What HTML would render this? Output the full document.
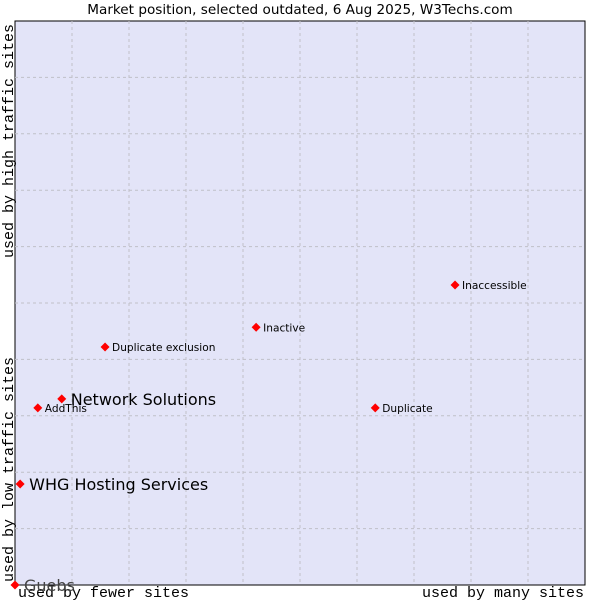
<!DOCTYPE html>
<html><head><meta charset="utf-8"><style>
body{margin:0;background:#fff;width:600px;height:600px;overflow:hidden}
svg{display:block}
</style></head><body>
<svg id="chart" width="600" height="600">
<rect x="15" y="21" width="570" height="564" fill="#e3e4f8" stroke="#000" stroke-width="1"/>
<g id="grid"></g>
<text x="300" y="14" text-anchor="middle" font-family="DejaVu Sans, sans-serif" font-size="13.6" fill="#000">Market position, selected outdated, 6 Aug 2025, W3Techs.com</text>
<text x="18" y="597" font-family="Liberation Mono, monospace" font-size="15">used by fewer sites</text>
<text x="584" y="597" text-anchor="end" font-family="Liberation Mono, monospace" font-size="15">used by many sites</text>
<text transform="translate(13,582) rotate(-90)" font-family="Liberation Mono, monospace" font-size="15">used by low traffic sites</text>
<text transform="translate(13,24) rotate(-90)" text-anchor="end" font-family="Liberation Mono, monospace" font-size="15">used by high traffic sites</text>
<g id="points"></g>
</svg>
<script>
const names=["Guebs","WHG Hosting Services","Network Solutions","AddThis","Duplicate exclusion","Inactive","Duplicate","Inaccessible"];
const xVals=[0,0.9,8.2,4.0,15.8,42.3,63.2,77.2];
const yVals=[0,17.9,33.0,31.4,42.2,45.7,31.4,53.2];
const bigLabel=[true,true,true,false,false,false,false,false];
const L=15,T=21,W=570,H=564;
const sx=v=>L+v/100*W, sy=v=>T+H-v/100*H;
const ns="http://www.w3.org/2000/svg";
const g=document.getElementById('grid');
for(let i=1;i<10;i++){
 const x=L+i*W/10,y=T+i*H/10;
 const a=document.createElementNS(ns,'line');
 
 
 a.setAttribute('x1',x);a.setAttribute('x2',x);a.setAttribute('y1',T);a.setAttribute('y2',T+H);
 a.setAttribute('stroke','#c0c0c8');a.setAttribute('stroke-dasharray','3,3');g.appendChild(a);
 const b=document.createElementNS(ns,'line');
 
 
 b.setAttribute('x1',L);b.setAttribute('x2',L+W);b.setAttribute('y1',y);b.setAttribute('y2',y);
 b.setAttribute('stroke','#c0c0c8');b.setAttribute('stroke-dasharray','3,3');g.appendChild(b);
}
const p=document.getElementById('points');
names.forEach((n,i)=>{
 const x=sx(xVals[i]),y=sy(yVals[i]);
 const d=document.createElementNS(ns,'polygon');
 
 
 d.setAttribute('points',`${x},${y-4.5} ${x+4.5},${y} ${x},${y+4.5} ${x-4.5},${y}`);
 d.setAttribute('fill','#ff0000');p.appendChild(d);
 const t=document.createElementNS(ns,'text');
 
 
 t.setAttribute('x',x+(bigLabel[i]?9:7));t.setAttribute('y',y+(bigLabel[i]?6:4));
 t.setAttribute('font-family','DejaVu Sans, sans-serif');
 t.setAttribute('font-size',bigLabel[i]?16:10.6);
 t.setAttribute('fill',i===0?'#444':'#000');
 t.textContent=n;p.appendChild(t);
});
</script>
</body></html>
